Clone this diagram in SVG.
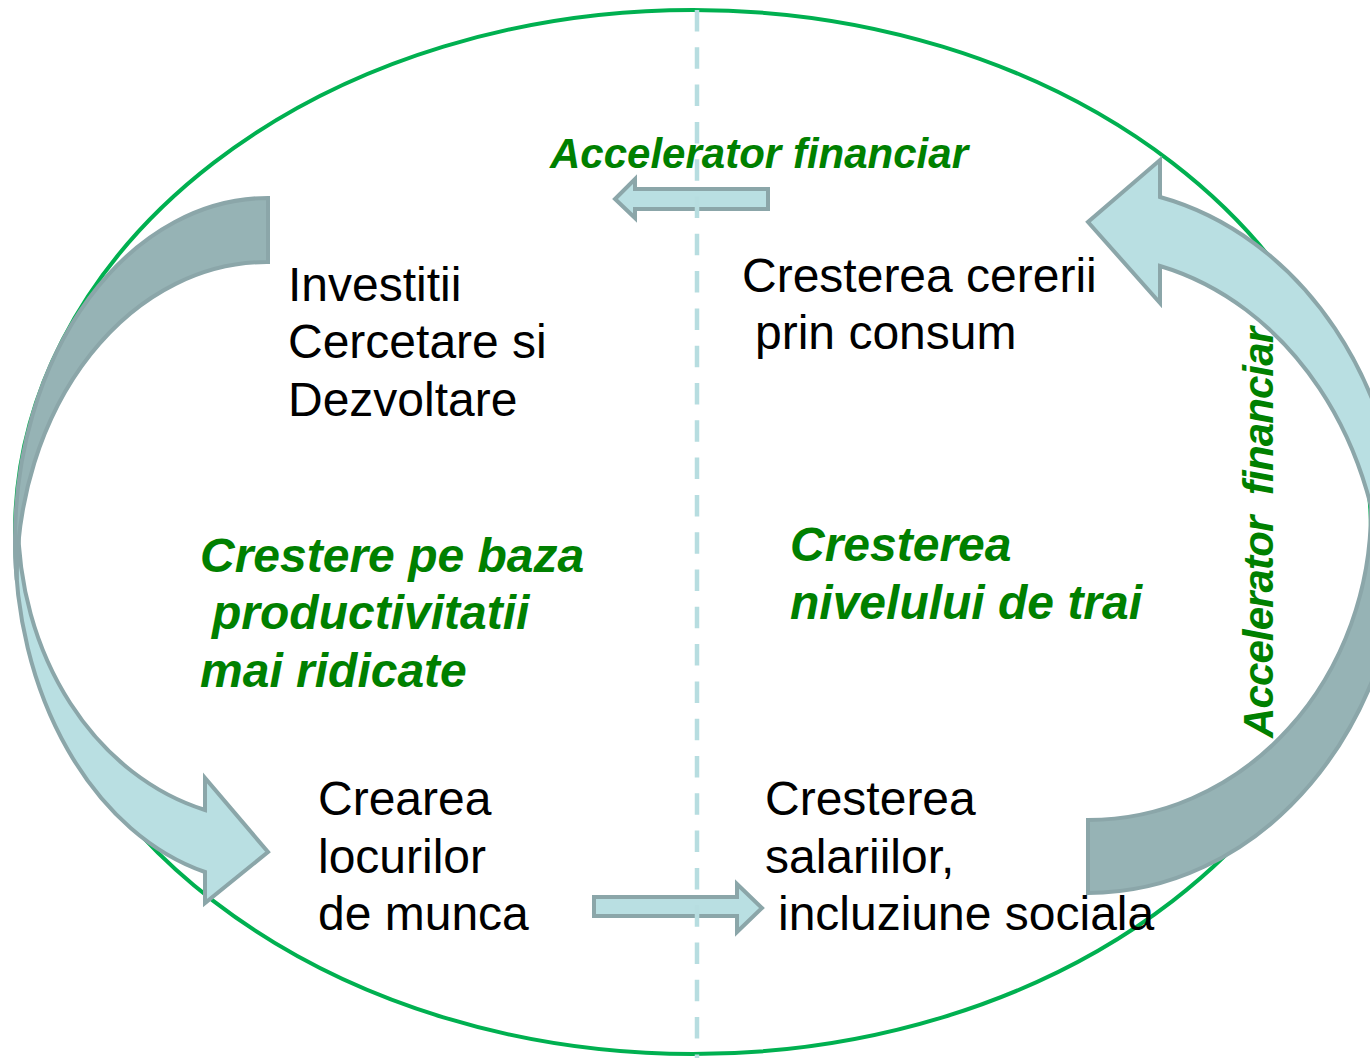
<svg xmlns="http://www.w3.org/2000/svg" width="1370" height="1058" viewBox="0 0 1370 1058">
<style>
.lbl{font-family:"Liberation Sans",Arial,sans-serif;font-size:48px;fill:#000}
.grn{font-family:"Liberation Sans",Arial,sans-serif;font-size:48px;font-weight:bold;font-style:italic;fill:#008000}
.acc{font-family:"Liberation Sans",Arial,sans-serif;font-size:42px;font-weight:bold;font-style:italic;fill:#008000}
.light{fill:#b9dfe2;stroke:#8ba6a9;stroke-width:4;stroke-linejoin:miter}
.dark{fill:#96b3b5;stroke:#8ba6a9;stroke-width:4;stroke-linejoin:miter}
</style>
<rect width="1370" height="1058" fill="#fff"/>
<g id="cycle-ellipse">
<ellipse cx="693" cy="532" rx="678" ry="522" fill="none" stroke="#00b050" stroke-width="4"/>
</g>
<g id="connectors">
<g id="left-curved-arrow">
<path class="light" d="M15,540 A253,342 0 0 0 205,872 L205,903 L268,852 L205,778 L205,810 A250,300 0 0 1 18,520 Z"/>
<path class="dark" d="M268,198 A253,342 0 0 0 15,540 A253,342 0 0 0 16.7,580 A250,318 0 0 1 268,262 Z"/>
</g>
<g id="right-curved-arrow">
<path class="light" d="M1160,197 A315,373 0 0 1 1403,560 L1383,600 A295,350 0 0 0 1160,266 L1160,303 L1088,222 L1160,160 Z"/>
<path class="dark" d="M1088,820 A283,310 0 0 0 1371,510 L1403,520 A315,373 0 0 1 1088,893 Z"/>
</g>
<path id="top-arrow" class="light" d="M768,189 L768,209 L635,209 L635,218 L615,199 L635,179 L635,189 Z"/>
<path id="bottom-arrow" class="light" d="M594,897 L737,897 L737,884 L762,908 L737,932 L737,916 L594,916 Z"/>
</g>
<g id="node-investitii">
<text class="lbl" x="288" y="301">Investitii</text>
<text class="lbl" x="288" y="358">Cercetare si</text>
<text class="lbl" x="288" y="416">Dezvoltare</text>
</g>
<g id="node-cererii">
<text class="lbl" x="742" y="292">Cresterea cererii</text>
<text class="lbl" x="755" y="349">prin consum</text>
</g>
<g id="node-locuri">
<text class="lbl" x="318" y="815">Crearea</text>
<text class="lbl" x="318" y="873">locurilor</text>
<text class="lbl" x="318" y="930">de munca</text>
</g>
<g id="node-salarii">
<text class="lbl" x="765" y="815">Cresterea</text>
<text class="lbl" x="765" y="873">salariilor,</text>
<text class="lbl" x="778" y="930">incluziune sociala</text>
</g>
<g id="label-productivitate">
<text class="grn" x="200" y="572">Crestere pe baza</text>
<text class="grn" x="212" y="629">productivitatii</text>
<text class="grn" x="200" y="687">mai ridicate</text>
</g>
<g id="label-nivel-trai">
<text class="grn" x="790" y="561">Cresterea</text>
<text class="grn" x="790" y="619">nivelului de trai</text>
</g>
<g id="label-accelerator-top">
<text class="acc" x="550" y="168" textLength="418" lengthAdjust="spacing">Accelerator financiar</text>
</g>
<g id="label-accelerator-right">
<text class="acc" transform="translate(1273,738) rotate(-90)" x="0" y="0" textLength="411" lengthAdjust="spacing" xml:space="preserve">Accelerator  financiar</text>
</g>
<g id="divider">
<line x1="697" y1="10" x2="697" y2="1058" stroke="#b7dde0" stroke-width="4.5" stroke-dasharray="21.5 15.8"/>
</g>
</svg>
